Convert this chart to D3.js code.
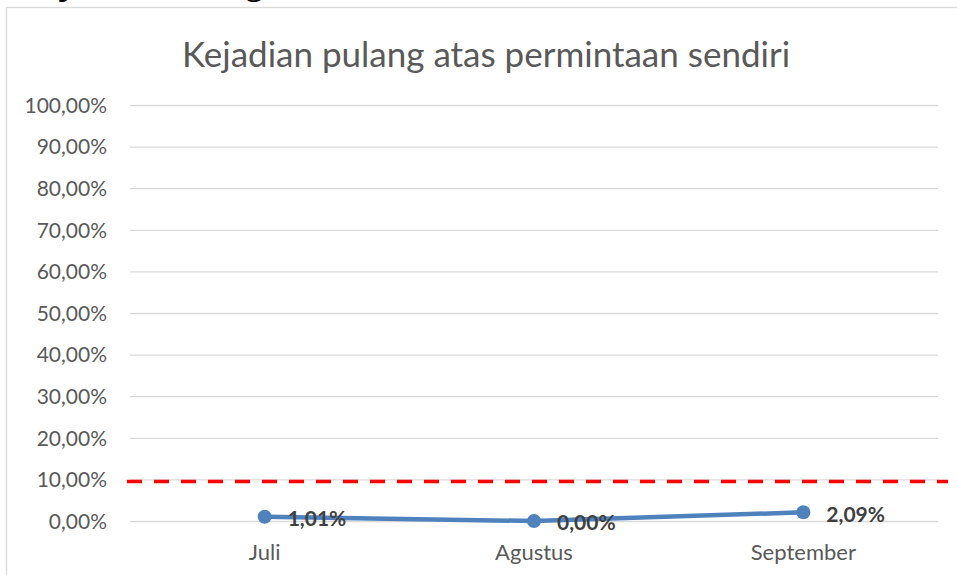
<!DOCTYPE html>
<html>
  <head>
    <meta charset="utf-8">
    <script src="https://cdn.jsdelivr.net/npm/d3@7/dist/d3.min.js"></script>
    <style>
      body { margin: 0; background: #fff; }
      text { font-family: Lato, "Open Sans", sans-serif; }
      text.cut { font-family: "Liberation Serif", "DejaVu Serif", serif; }
    </style>
  </head>
  <body>
    <svg width="957" height="575" id="mainsvg"></svg>
    <script>
      // data
      const months = ['Juli', 'Agustus', 'September'];
      const values = [1.01, 0.00, 2.09];
      const labels = ['1,01%', '0,00%', '2,09%'];
      const standard = 9.5;
      const yTicks = [0, 10, 20, 30, 40, 50, 60, 70, 80, 90, 100];
      const title = 'Kejadian pulang atas permintaan sendiri';

      const svg = d3.select('#mainsvg');
      const margin = {top: 105, left: 130, right: 19, bottom: 54};
      const width = +svg.attr('width');
      const height = +svg.attr('height');
      const innerWidth = width - margin.left - margin.right;
      const innerHeight = 521 - margin.top;

      // cut-off heading from the page above the chart (only descender tips show)
      svg.append('text')
        .attr('class', 'cut')
        .attr('x', 18).attr('y', -5.5)
        .style('font-weight', 'bold')
        .style('font-size', '34px')
        .attr('fill', '#000')
        .text('Kejadian Pulang');

      // chart border
      svg.append('rect')
        .attr('x', 6.5).attr('y', 7.5)
        .attr('width', 960).attr('height', 580)
        .attr('fill', '#fff')
        .attr('stroke', '#d9d9d9')
        .attr('stroke-width', 1.3);

      svg.append('text')
        .attr('x', 486).attr('y', 67)
        .attr('text-anchor', 'middle')
        .attr('fill', '#595959')
        .style('font-size', '35px')
        .text(title);

      const g = svg.append('g')
        .attr('transform', `translate(${margin.left}, ${margin.top})`);

      const xScale = d3.scaleBand().domain(months).range([0, innerWidth]);
      const yScale = d3.scaleLinear().domain([0, 100]).range([innerHeight, 0]);

      const yAxis = d3.axisLeft(yScale)
        .tickValues(yTicks)
        .tickSize(-innerWidth)
        .tickPadding(23)
        .tickFormat(d => d3.format('.2f')(d).replace('.', ',') + '%');
      const yAxisGroup = g.append('g').call(yAxis);
      yAxisGroup.select('.domain').remove();
      yAxisGroup.selectAll('.tick line').attr('stroke', '#d9d9d9').attr('stroke-width', 1.3);
      yAxisGroup.selectAll('.tick text')
        .attr('fill', '#595959')
        .style('font-size', '21px')
        .attr('dy', '0.35em');

      const xAxis = d3.axisBottom(xScale).tickSize(0).tickPadding(23);
      const xAxisGroup = g.append('g')
        .attr('transform', `translate(0, ${innerHeight})`)
        .call(xAxis);
      xAxisGroup.select('.domain').remove();
      xAxisGroup.selectAll('.tick text')
        .attr('fill', '#595959')
        .style('font-size', '22px');

      // standard line
      g.append('line')
        .attr('x1', -3).attr('x2', innerWidth + 10)
        .attr('y1', yScale(standard)).attr('y2', yScale(standard))
        .attr('stroke', '#ff0000')
        .attr('stroke-width', 3.5)
        .attr('stroke-dasharray', '15 12');

      const xPos = (d, i) => xScale(months[i]) + xScale.bandwidth() / 2;

      const line = d3.line()
        .x(xPos)
        .y(d => yScale(d));

      g.append('path')
        .datum(values)
        .attr('d', line)
        .attr('fill', 'none')
        .attr('stroke', '#4f81bd')
        .attr('stroke-width', 4.5)
        .attr('stroke-linejoin', 'round');

      g.selectAll('.dot')
        .data(values)
        .join('circle')
        .attr('class', 'dot')
        .attr('cx', xPos)
        .attr('cy', d => yScale(d))
        .attr('r', 7)
        .attr('fill', '#4f81bd');

      g.selectAll('.lbl')
        .data(values)
        .join('text')
        .attr('class', 'lbl')
        .attr('x', (d, i) => xPos(d, i) + 23)
        .attr('y', d => yScale(d) + 2)
        .attr('dy', '0.35em')
        .attr('fill', '#404040')
        .style('font-size', '21px')
        .style('font-weight', 'bold')
        .text((d, i) => labels[i]);
    </script>
  </body>
</html>
